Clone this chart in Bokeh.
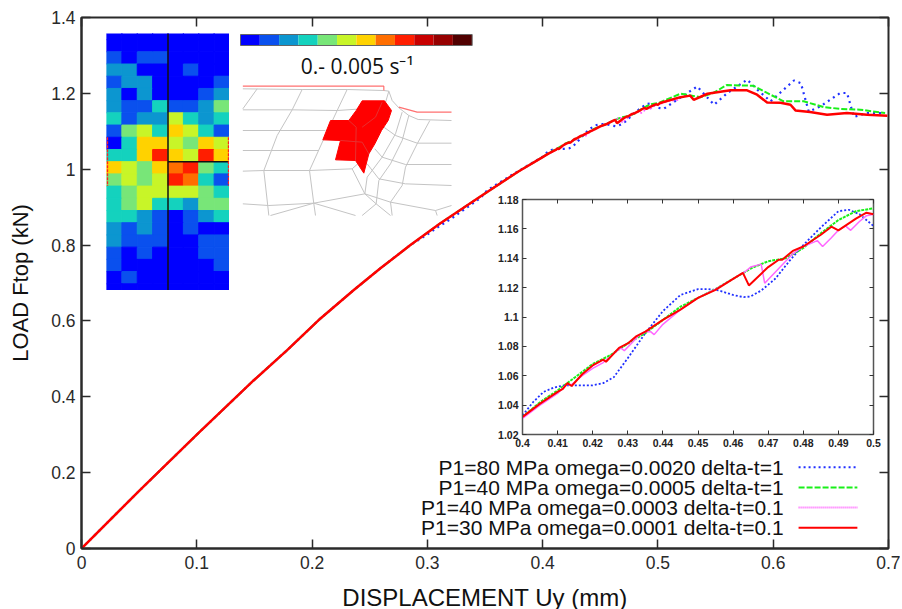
from bokeh.plotting import figure
from bokeh.models import LinearAxis, Range1d, Column, FixedTicker
from bokeh.core.properties import value
from bokeh.embed import file_html
from bokeh.resources import INLINE

# ---------- data ----------
low_x = [0, .05, .1, .1495, .1784, .2073, .2362, .2593, .2853, .311, .346, .379]
low_y = [0, .152, .30, .4437, .523, .6066, .6815, .7387, .80, .857, .928, .994]

in_red_x = [.4,.405,.41,.4115,.4128,.414,.417,.42,.423,.4238,.4275,.43,.4325,.435,.44,.445,.45,.455,.46,.4628,.4645,.47,.473,.474,.477,.48,.485,.488,.49,.495,.498,.5]
in_red_y = [1.032,1.041,1.049,1.051,1.055,1.053,1.061,1.067,1.071,1.0695,1.079,1.082,1.087,1.09,1.098,1.105,1.113,1.1185,1.126,1.13,1.1215,1.134,1.139,1.139,1.145,1.148,1.156,1.1615,1.159,1.167,1.171,1.170]
in_mag_x = [.4,.405,.41,.4125,.414,.417,.42,.423,.426,.428,.429,.431,.433,.435,.4365,.4375,.44,.445,.45,.455,.46,.4635,.465,.468,.469,.473,.477,.48,.484,.4855,.488,.49,.492,.4935,.496,.498,.5]
in_mag_y = [1.031,1.040,1.048,1.054,1.054,1.060,1.065,1.069,1.075,1.079,1.077,1.082,1.087,1.090,1.09,1.088,1.095,1.105,1.113,1.119,1.126,1.131,1.134,1.136,1.123,1.133,1.143,1.148,1.152,1.148,1.154,1.159,1.162,1.159,1.165,1.169,1.170]
in_grn_x = [.4,.405,.41,.415,.42,.425,.43,.435,.44,.445,.45,.455,.46,.465,.47,.475,.48,.485,.49,.495,.5]
in_grn_y = [1.032,1.042,1.050,1.059,1.068,1.074,1.082,1.089,1.098,1.107,1.113,1.119,1.126,1.133,1.138,1.140,1.147,1.157,1.166,1.172,1.174]
in_blu_x = [.4,.403,.406,.409,.412,.415,.42,.423,.426,.43,.435,.44,.445,.45,.453,.456,.46,.463,.465,.468,.472,.476,.48,.485,.49,.493,.496,.5]
in_blu_y = [1.033,1.042,1.049,1.052,1.0535,1.0535,1.0535,1.055,1.059,1.072,1.089,1.104,1.115,1.119,1.119,1.118,1.115,1.1135,1.114,1.118,1.126,1.138,1.149,1.161,1.172,1.173,1.170,1.162]

top_red_x = [.502,.5195,.528,.531,.543,.5513,.5629,.5773,.586,.5947,.6063,.615,.6193,.632,.6467,.664,.6815,.699]
top_red_y = [1.1745,1.190,1.194,1.183,1.199,1.2027,1.208,1.208,1.1965,1.176,1.175,1.170,1.155,1.151,1.1437,1.148,1.1437,1.141]
top_grn_x = [.5195,.537,.548,.5597,.5828,.5947,.609,.6263,.6437,.658,.6755,.697]
top_grn_y = [1.199,1.190,1.201,1.222,1.220,1.201,1.179,1.179,1.164,1.159,1.157,1.148]
top_blu_x = [.5049,.5166,.534,.5487,.5603,.5774,.5862,.5977,.618,.624,.6308,.641,.6582,.664,.670,.6815,.697]
top_blu_y = [1.159,1.183,1.218,1.170,1.201,1.236,1.210,1.179,1.234,1.227,1.152,1.166,1.201,1.201,1.138,1.148,1.148]
top_mag_x = [.51,.519]
top_mag_y = [1.18,1.183]
rip_blu_x = [.30,.311,.32,.346,.352,.375]
rip_blu_y = [.828,.851,.868,.924,.945,.988]

legend_labels = ["P1=80 MPa omega=0.0020 delta-t=1", "P1=40 MPa omega=0.0005 delta-t=1",
                 "P1=40 MPa omega=0.0003 delta-t=0.1", "P1=30 MPa omega=0.0001 delta-t=0.1"]
x_ticks = [0, .1, .2, .3, .4, .5, .6, .7]
x_labels = ["0", "0.1", "0.2", "0.3", "0.4", "0.5", "0.6", "0.7"]
y_ticks = [0, .2, .4, .6, .8, 1, 1.2, 1.4]
y_labels = ["0", "0.2", "0.4", "0.6", "0.8", "1", "1.2", "1.4"]
ix_ticks = [.4, .41, .42, .43, .44, .45, .46, .47, .48, .49, .5]
ix_labels = ["0.4", "0.41", "0.42", "0.43", "0.44", "0.45", "0.46", "0.47", "0.48", "0.49", "0.5"]
iy_ticks = [1.02, 1.04, 1.06, 1.08, 1.1, 1.12, 1.14, 1.16, 1.18]
iy_labels = ["1.02", "1.04", "1.06", "1.08", "1.1", "1.12", "1.14", "1.16", "1.18"]

palette = ["#0000FF", "#0A50EE", "#0C96D0", "#14D2BE", "#78E678", "#C8F528",
           "#FFD200", "#FF6E00", "#FF1E00", "#C80000", "#960000", "#500000"]
heat_levels = [
    [0,0,0,0,0,0,0,0], [0,0,0,0,0,0,0,0], [1,0,1,1,0,0,0,0], [2,2,0,0,0,1,0,0],
    [1,2,2,0,0,0,0,1], [2,0,2,0,0,0,1,2], [2,1,1,3,1,1,2,4], [3,1,2,2,5,3,2,3],
    [1,4,5,3,6,5,3,1], [0,3,6,6,5,4,6,5], [3,3,6,8,6,5,8,6], [6,5,4,6,7,8,4,3],
    [4,5,4,5,8,7,3,1], [3,4,5,5,5,5,4,3], [3,4,5,3,3,2,4,4], [3,3,2,1,0,1,2,3],
    [2,1,2,1,0,1,0,0], [2,1,1,1,0,0,1,1], [1,0,1,0,0,0,1,1], [1,0,0,0,0,0,0,1],
    [0,1,0,0,0,0,0,0], [0,0,0,0,0,0,0,0]]

mesh_lines = [
    [(22,205),(200,207),(335,207),(445,210),(460,212),(470,240),(490,262),(520,285),(548,297),(648,300)],
    [(65,205),(22,265)],
    [(200,207),(170,268),(125,345),(85,450),(100,585)],
    [(335,207),(305,270),(265,355),(222,450),(235,550),(240,585)],
    [(22,268),(170,268),(305,270),(380,265)],
    [(22,330),(130,330),(270,330)],
    [(22,390),(105,390),(250,390)],
    [(22,452),(85,450),(222,450),(350,445)],
    [(22,550),(100,555),(235,548),(388,520)],
    [(235,548),(360,585)], [(235,548),(105,585)],
    [(460,212),(440,280),(400,400),(350,445),(388,520),(422,550),(465,585)],
    [(422,550),(380,585)],
    [(500,275),(480,340),(440,410),(395,470),(388,520)],
    [(520,285),(500,360),(465,430),(430,480),(422,550)],
    [(583,300),(545,370),(510,440),(500,495),(465,545),(470,585)],
    [(445,320),(480,345),(545,368),(648,368)],
    [(418,385),(440,410),(510,432),(648,432)],
    [(395,430),(430,475),(510,490),(648,495)],
    [(388,520),(465,545),(600,570),(648,555)],
    [(600,570),(605,585)],
]
mesh_inner = [[(440,245),(420,290),(380,320)], [(340,300),(362,320),(360,420)], [(315,360),(380,365),(400,400)]]
mesh_red = [(380,241),(447,241),(468,270),(458,300),(438,330),(418,370),(400,400),(385,458),
            (360,420),(300,418),(315,360),(262,358),(285,300),(340,300),(362,270)]
red_edge_a = [(22,197),(445,197),(445,210)]
red_edge_b = [(490,260),(545,275),(648,275)]

# ---------- main chart ----------
FONT = "Liberation Sans"
INK = "#2a2a2a"
p = figure(frame_width=807, frame_height=531, output_backend="svg", toolbar_location=None,
           x_range=Range1d(0, .7), y_range=Range1d(0, 1.4),
           min_border_left=81, min_border_top=17, min_border_right=12, min_border_bottom=60,
           x_axis_label="DISPLACEMENT Uy (mm)", y_axis_label="LOAD Ftop (kN)", frame_align=False)
p.grid.visible = False
p.outline_line_color = INK
p.outline_line_width = 2
for ax, t, l in ((p.xaxis[0], x_ticks, x_labels), (p.yaxis[0], y_ticks, y_labels)):
    ax.ticker = FixedTicker(ticks=t)
    ax.major_label_overrides = dict(zip(t, l))
    ax.major_tick_in = 9; ax.major_tick_out = 0; ax.minor_tick_line_color = None
    ax.axis_line_color = INK; ax.axis_line_width = 2
    ax.major_tick_line_color = INK; ax.major_tick_line_width = 1.5
    ax.major_label_text_font = FONT; ax.major_label_text_font_size = "17.5px"
    ax.major_label_text_color = INK
    ax.major_label_standoff = 7
    ax.axis_label_text_font = FONT; ax.axis_label_text_font_size = "24px"
    ax.axis_label_text_font_style = "normal"; ax.axis_label_text_color = "#111"
    ax.axis_label_standoff = 12
p.yaxis[0].axis_label_text_font_size = "22px"
p.yaxis[0].axis_label_standoff = 15
p.yaxis[0].major_label_standoff = 6
p.yaxis[0].major_label_orientation = "horizontal"
for side, t in (("above", x_ticks), ("right", y_ticks)):
    a = LinearAxis(ticker=FixedTicker(ticks=t), major_label_overrides={v: "" for v in t},
                   major_tick_in=9, major_tick_out=0, minor_tick_line_color=None,
                   axis_line_color=None, major_tick_line_color=INK, major_tick_line_width=1.5,
                   major_label_standoff=0)
    p.add_layout(a, side)

blue_x = low_x[:9] + rip_blu_x + in_blu_x + top_blu_x
blue_y = low_y[:9] + rip_blu_y + in_blu_y + top_blu_y
p.line(blue_x, blue_y, line_color="#2030FF", line_width=2.2, line_dash="2 4")
p.line(low_x + in_grn_x + top_grn_x, low_y + in_grn_y + top_grn_y, line_color="#19F019", line_width=2, line_dash="6 2")
p.line(low_x + in_mag_x + top_mag_x, low_y + in_mag_y + top_mag_y, line_color="#FF55FF", line_width=1.5, line_dash="2 2")
p.line(low_x + in_red_x + top_red_x, low_y + in_red_y + top_red_y, line_color="#FF0000", line_width=2.5)

# legend, gnuplot style: right-aligned text then a sample line (positions in data units)
leg_y = [.214, .161, .108, .055]
p.text([.609] * 4, leg_y, text=legend_labels, text_font=value(FONT), text_font_size="21px",
       text_align="right", text_baseline="middle", text_color="#111")
styles = [("#2030FF", 2, "2 3"), ("#19F019", 2, "6 2"), ("#FF55FF", 2, "1 1"), ("#FF0000", 2, "solid")]
for yy, (c, w, d) in zip(leg_y, styles):
    p.line([.622, .673], [yy, yy], line_color=c, line_width=w, line_dash=d)

# ---------- inset ----------
inset = figure(frame_width=351, frame_height=235, output_backend="svg", toolbar_location=None,
               x_range=Range1d(.4, .5), y_range=Range1d(1.02, 1.18),
               min_border_left=27, min_border_top=9, min_border_right=12, min_border_bottom=21,
               background_fill_alpha=0, border_fill_alpha=0, frame_align=False)
inset.grid.visible = False
inset.outline_line_color = "#555"
inset.outline_line_width = 1.5
for ax, t, l in ((inset.xaxis[0], ix_ticks, ix_labels), (inset.yaxis[0], iy_ticks, iy_labels)):
    ax.ticker = FixedTicker(ticks=t)
    ax.major_label_overrides = dict(zip(t, l))
    ax.major_tick_in = 4; ax.major_tick_out = 0; ax.minor_tick_line_color = None
    ax.axis_line_color = "#555"; ax.major_tick_line_color = "#333"
    ax.major_label_text_font = FONT; ax.major_label_text_font_size = "10.5px"
    ax.major_label_text_font_style = "bold"; ax.major_label_text_color = "#222"
    ax.major_label_standoff = 4
for side, t in (("above", ix_ticks), ("right", iy_ticks)):
    a = LinearAxis(ticker=FixedTicker(ticks=t), major_label_overrides={v: "" for v in t},
                   major_tick_in=4, major_tick_out=0, minor_tick_line_color=None,
                   axis_line_color=None, major_tick_line_color="#333", major_label_standoff=0)
    inset.add_layout(a, side)
inset.line(in_blu_x, in_blu_y, line_color="#2030FF", line_width=1.8, line_dash="2 2")
inset.line(in_grn_x, in_grn_y, line_color="#19F019", line_width=2, line_dash="3 1")
inset.line(in_mag_x, in_mag_y, line_color="#FF66FF", line_width=1.5)
inset.line(in_red_x, in_red_y, line_color="#FF0000", line_width=2)

# ---------- strain-rate map ----------
heat = figure(frame_width=123, frame_height=257, output_backend="svg", toolbar_location=None,
              x_range=Range1d(0, 8), y_range=Range1d(21.55, .5), min_border=0,
              x_axis_location=None, y_axis_location=None, background_fill_alpha=0, border_fill_alpha=0,
              frame_align=False)
heat.grid.visible = False
heat.outline_line_color = None
hl, hr, hb, ht, hc = [], [], [], [], []
for r, row in enumerate(heat_levels):
    for c, lv in enumerate(row):
        hl.append(c); hr.append(c + 1); ht.append(r); hb.append(r + 1); hc.append(palette[lv])
heat.quad(left=hl, right=hr, top=ht, bottom=hb, fill_color=hc, line_color=hc, line_width=1)
heat.line([4, 4], [.5, 21.55], line_color="#111", line_width=1.5)
heat.line([4, 8], [11, 11], line_color="#111", line_width=1.5)
for xs in (.06, 7.94):
    heat.line([xs, xs], [9, 13], line_color="#FF2020", line_width=1.5, line_dash="3 1")

# ---------- colour scale, caption and mesh detail ----------
mesh = figure(frame_width=245, frame_height=200, output_backend="svg", toolbar_location=None,
              x_range=Range1d(0, 735), y_range=Range1d(600, 0), min_border=0,
              x_axis_location=None, y_axis_location=None, background_fill_alpha=0, border_fill_alpha=0,
              frame_align=False)
mesh.grid.visible = False
mesh.outline_line_color = None
mesh.multi_line([[q[0] for q in l] for l in mesh_lines], [[q[1] for q in l] for l in mesh_lines],
                line_color="#C4C4C4", line_width=1)
mesh.patch([q[0] for q in mesh_red], [q[1] for q in mesh_red], fill_color="#FF0000", line_color="#FF0000")
mesh.multi_line([[q[0] for q in l] for l in mesh_inner], [[q[1] for q in l] for l in mesh_inner],
                line_color="#E83030", line_width=1)
for e in (red_edge_a, red_edge_b):
    mesh.line([q[0] for q in e], [q[1] for q in e], line_color="#FF7070", line_width=1.2)
step = (710 - 15) / len(palette)
mesh.quad(left=[15 + i * step for i in range(12)], right=[15 + (i + 1) * step for i in range(12)],
          top=[42] * 12, bottom=[75] * 12, fill_color=palette, line_color=None)
mesh.quad(left=[15], right=[710], top=[42], bottom=[75], fill_color=None, line_color="#666", line_width=1)
mesh.text([365], [135], text=["0.- 0.005 s\u207b\u00b9"], text_font=value("Open Sans"), text_font_size="21px",
          text_align="center", text_baseline="middle", text_color="#111")


def place(fig, left, top):
    fig.styles = {"position": "absolute", "left": f"{left}px", "top": f"{top}px"}


place(inset, 494.7, 190)
place(heat, 105.7, 33.3)
place(mesh, 235, 20)

page = Column(children=[p, inset, heat, mesh])
open("out.html", "w").write(file_html(page, INLINE))
